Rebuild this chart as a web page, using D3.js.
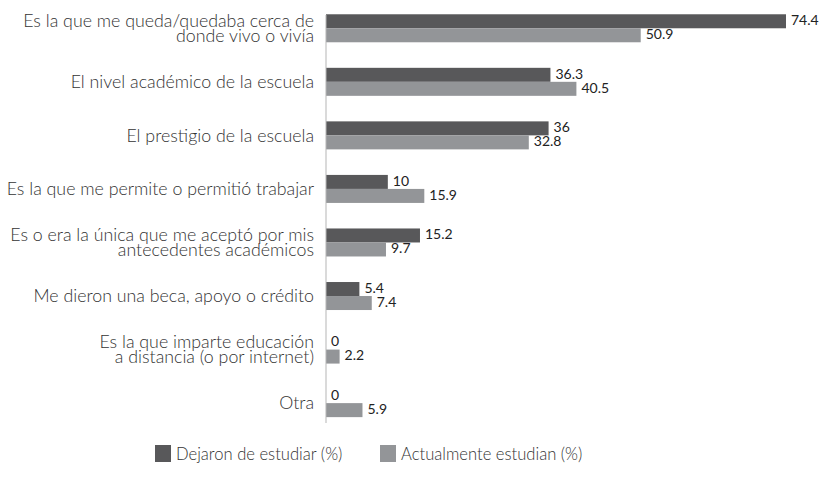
<!DOCTYPE html>
<html>
<head>
	<meta charset="utf-8">
	<title>Razones de elección de escuela</title>
	<style>
		body { margin: 0; background: #fff; }
		svg { display: block; }
	</style>
</head>
<body>
	<main></main>
	<script src="https://d3js.org/d3.v7.min.js"></script>
	<script type="text/javascript">

		const categories = [
			"Es la que me queda/quedaba cerca de|donde vivo o vivía",
			"El nivel académico de la escuela",
			"El prestigio de la escuela",
			"Es la que me permite o permitió trabajar",
			"Es o era la única que me aceptó por mis|antecedentes académicos",
			"Me dieron una beca, apoyo o crédito",
			"Es la que imparte educación|a distancia (o por internet)",
			"Otra"
		];
		const dejaron = [74.4, 36.3, 36, 10, 15.2, 5.4, 0, 0];
		const actualmente = [50.9, 40.5, 32.8, 15.9, 9.7, 7.4, 2.2, 5.9];
		const seriesNames = ["Dejaron de estudiar (%)", "Actualmente estudian (%)"];
		const seriesColors = ["#58585a", "#939598"];

		const width = 831, height = 479;
		const x0 = 326;

		const svg = d3.select("main").append("svg")
			.attr("width", width)
			.attr("height", height);

		const x = d3.scaleLinear()
			.domain([0, 74.4])
			.range([x0, 786]);

		const y = d3.scaleBand()
			.domain(categories)
			.range([1.5, 429.9])
			.paddingInner(0.477)
			.paddingOuter(0.2385);

		const sub = d3.scaleBand()
			.domain([0, 1])
			.range([0, y.bandwidth()]);

		const rows = categories.map((c, i) => ({ cat: c, vals: [dejaron[i], actualmente[i]] }));

		const g = svg.append("g");

		const row = g.selectAll("g.row")
			.data(rows)
			.join("g")
				.attr("class", "row")
				.attr("transform", d => `translate(0,${y(d.cat)})`);

		row.selectAll("rect")
			.data(d => d.vals)
			.join("rect")
				.attr("x", x(0))
				.attr("y", (v, j) => sub(j))
				.attr("width", v => x(v) - x(0))
				.attr("height", sub.bandwidth())
				.attr("fill", (v, j) => seriesColors[j]);

		row.selectAll("text.val")
			.data(d => d.vals)
			.join("text")
				.attr("class", "val")
				.attr("x", v => x(v) + 5)
				.attr("y", (v, j) => sub(j) + sub.bandwidth() / 2 - 1)
				.attr("dy", "0.35em")
				.style("font", "400 14px Lato, sans-serif")
				.style("fill", "#222")
				.text(v => v);

		// category labels
		row.append("text")
			.attr("text-anchor", "end")
			.attr("x", 314)
			.style("font", "300 17.8px Lato, sans-serif")
			.style("fill", "#333")
			.each(function(d) {
				const lines = d.cat.split("|");
				const el = d3.select(this);
				const mid = y.bandwidth() / 2;
				const lh = 15;
				lines.forEach((l, k) => {
					el.append("tspan")
						.attr("x", 314)
						.attr("y", mid + (k - (lines.length - 1) / 2) * lh)
						.attr("dy", "0.35em")
						.text(l);
				});
			});

		// axis line
		g.append("line")
			.attr("x1", x0).attr("x2", x0)
			.attr("y1", 15).attr("y2", 423)
			.attr("stroke", "#b5b5b5")
			.attr("stroke-width", 1);

		// legend
		const legend = svg.append("g")
			.attr("transform", "translate(155,445)");
		const legX = [0, 225];
		seriesNames.forEach((n, i) => {
			legend.append("rect")
				.attr("x", legX[i]).attr("y", 0)
				.attr("width", 16).attr("height", 17)
				.attr("fill", seriesColors[i]);
			legend.append("text")
				.attr("x", legX[i] + 21)
				.attr("y", 9)
				.attr("dy", "0.35em")
				.style("font", "300 16.6px Lato, sans-serif")
				.style("fill", "#333")
				.text(n);
		});

	</script>
</body>
</html>
